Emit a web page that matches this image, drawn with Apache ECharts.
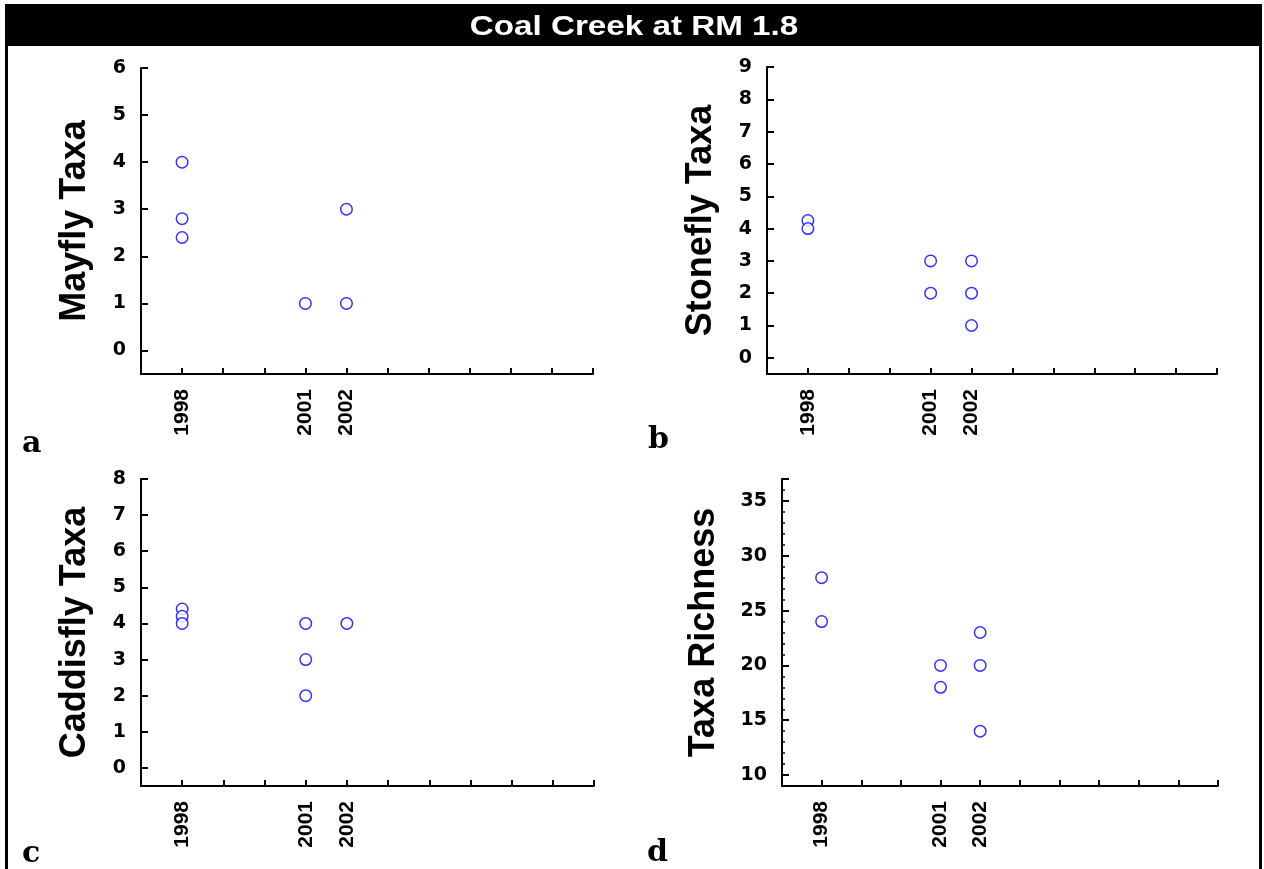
<!DOCTYPE html>
<html>
<head>
<meta charset="utf-8">
<title>Coal Creek at RM 1.8</title>
<script src="https://cdn.jsdelivr.net/npm/echarts@6/dist/echarts.min.js"></script>
<style>
html, body { margin: 0; padding: 0; background: #fff; }
#chart { width: 1264px; height: 869px; }
</style>
</head>
<body>
<div id="chart"></div>
<script>
var titleText = 'Coal Creek at RM 1.8';
var labelYears = [1998, 2001, 2002];

// a - mayfly
var mayflyYear = [1998, 1998, 1998, 2001, 2002, 2002];
var mayflyVal = [4, 2.8, 2.4, 1, 3, 1];
// b - stonefly
var stoneflyYear = [1998, 1998, 2001, 2001, 2002, 2002, 2002];
var stoneflyVal = [4.25, 4, 3, 2, 3, 2, 1];
// c - caddisfly
var caddisYear = [1998, 1998, 1998, 2001, 2001, 2001, 2002];
var caddisVal = [4.4, 4.2, 4, 4, 3, 2, 4];
// d - taxa richness
var richYear = [1998, 1998, 2001, 2001, 2002, 2002, 2002];
var richVal = [28, 24, 20, 18, 23, 20, 14];

var panelNames = ['Mayfly Taxa', 'Stonefly Taxa', 'Caddisfly Taxa', 'Taxa Richness'];
var panelLetters = ['a', 'b', 'c', 'd'];

function pairs(xs, ys) {
    var out = [];
    for (var i = 0; i < xs.length; i++) {
        out.push([xs[i], ys[i]]);
    }
    return out;
}

var black = '#000';
var tickFont = 'DejaVu Sans';
var rotFont = 'Liberation Sans';

function xAxisCfg(gi) {
    return {
        type: 'value', gridIndex: gi, min: 1997, max: 2008, interval: 1,
        axisLine: { show: true, onZero: false, lineStyle: { color: black, width: 2 } },
        axisTick: { show: true, inside: true, length: 6, lineStyle: { color: black, width: 2 } },
        splitLine: { show: false },
        axisLabel: {
            rotate: 90, margin: 15, color: black, fontFamily: rotFont, fontWeight: 'bold', fontSize: 21,
            formatter: function (v) { return labelYears.indexOf(v) >= 0 ? String(v) : ''; }
        }
    };
}

function yAxisCfg(gi, min, max, step, name, gap) {
    return {
        type: 'value', gridIndex: gi, position: 'left', min: min, max: max, minInterval: step, maxInterval: step,
        name: name, nameLocation: 'middle', nameRotate: 90, nameGap: gap,
        nameTextStyle: { color: black, fontFamily: rotFont, fontWeight: 'bold', fontSize: 36 },
        axisLine: { show: true, onZero: false, lineStyle: { color: black, width: 2 } },
        axisTick: { show: true, inside: true, length: 7, lineStyle: { color: black, width: 2 } },
        splitLine: { show: false },
        axisLabel: {
            margin: 15, color: black, fontFamily: tickFont, fontWeight: 'bold', fontSize: 19,
            formatter: function (v) {
                if (v % step !== 0) return '';
                if (v > max - 0.5 && max % step !== 0) return '';
                if (v < min + 0.5 && min % step !== 0) return '';
                return String(v);
            }
        }
    };
}

// short minor ticks (every 1) for the richness axis, drawn on the same grid
function minorAxisCfg(gi, min, max) {
    return {
        type: 'value', gridIndex: gi, position: 'left', min: min, max: max, minInterval: 1, maxInterval: 1,
        axisLine: { show: false },
        axisTick: { show: true, inside: true, length: 3, lineStyle: { color: black, width: 1.5 } },
        splitLine: { show: false },
        axisLabel: { show: false }
    };
}

function scatter(gi, data) {
    return {
        type: 'scatter', xAxisIndex: gi, yAxisIndex: gi, data: data,
        symbol: 'circle', symbolSize: 11.5, silent: true,
        itemStyle: { color: '#fff', borderColor: '#0000ff', borderWidth: 1.5 }
    };
}

function letter(t, x, y) {
    return {
        type: 'text', x: x, y: y,
        style: { text: t, fill: black, font: 'bold 30px "DejaVu Serif"', align: 'left', verticalAlign: 'bottom' }
    };
}

var chart = echarts.init(document.getElementById('chart'), null, { renderer: 'canvas' });

var option = {
    animation: false,
    backgroundColor: '#fff',
    grid: [
        { left: 141, top: 68, width: 452, height: 306, outerBoundsMode: 'none' },
        { left: 767, top: 67, width: 450, height: 307, outerBoundsMode: 'none' },
        { left: 141, top: 479, width: 453, height: 307, outerBoundsMode: 'none' },
        { left: 782, top: 479, width: 436, height: 307, outerBoundsMode: 'none' }
    ],
    xAxis: [xAxisCfg(0), xAxisCfg(1), xAxisCfg(2), xAxisCfg(3)],
    yAxis: [
        yAxisCfg(0, -0.5, 6, 1, panelNames[0], 48),
        yAxisCfg(1, -0.5, 9, 1, panelNames[1], 48),
        yAxisCfg(2, -0.5, 8, 1, panelNames[2], 48),
        yAxisCfg(3, 9, 37, 5, panelNames[3], 60),
        minorAxisCfg(3, 9, 37)
    ],
    series: [
        scatter(0, pairs(mayflyYear, mayflyVal)),
        scatter(1, pairs(stoneflyYear, stoneflyVal)),
        scatter(2, pairs(caddisYear, caddisVal)),
        scatter(3, pairs(richYear, richVal))
    ],
    graphic: [
        { type: 'rect', shape: { x: 5, y: 4, width: 1257, height: 42 }, style: { fill: black } },
        { type: 'rect', shape: { x: 5, y: 4, width: 3, height: 865 }, style: { fill: black } },
        { type: 'rect', shape: { x: 1259, y: 4, width: 3, height: 865 }, style: { fill: black } },
        {
            type: 'text', x: 634, y: 28, scaleX: 1.23,
            style: { text: titleText, fill: '#fff', font: 'bold 27px "Liberation Sans"', align: 'center', verticalAlign: 'middle' }
        },
        letter(panelLetters[0], 22, 459),
        letter(panelLetters[1], 648, 455),
        letter(panelLetters[2], 22, 869),
        letter(panelLetters[3], 647, 868)
    ]
};

chart.setOption(option);
</script>
</body>
</html>
